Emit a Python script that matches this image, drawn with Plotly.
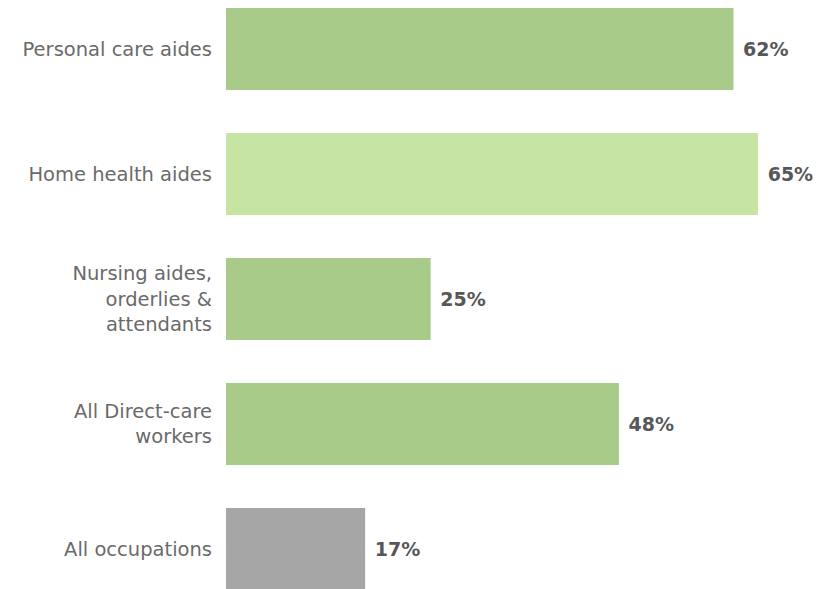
import plotly.graph_objects as go

categories = ["Personal care aides", "Home health aides", "Nursing aides,<br>orderlies &<br>attendants",
              "All Direct-care<br>workers", "All occupations"]
values = [62, 65, 25, 48, 17]
colors = ["#a9cb89", "#c6e4a2", "#a9cb89", "#a9cb89", "#a6a6a6"]

fig = go.Figure(go.Bar(
    x=values, y=categories, orientation="h",
    marker=dict(color=colors, line=dict(width=0)),
    width=0.656,
    text=[f" {v}%" for v in values], textposition="outside",
    textfont=dict(family="DejaVu Sans", size=19, color="#575757", weight="bold"),
    cliponaxis=False,
))
fig.update_layout(
    width=817, height=589,
    margin=dict(l=226, r=0, t=0, b=0),
    plot_bgcolor="white", paper_bgcolor="white",
    showlegend=False,
    xaxis=dict(range=[0, 72.2], visible=False),
    yaxis=dict(type="category", range=[4.32, -0.392], showgrid=False, zeroline=False,
               showline=False, ticks="", ticklabelstandoff=13,
               tickfont=dict(family="DejaVu Sans", size=19.5, color="#6a6a6a")),
)
fig.write_html("out.html")
